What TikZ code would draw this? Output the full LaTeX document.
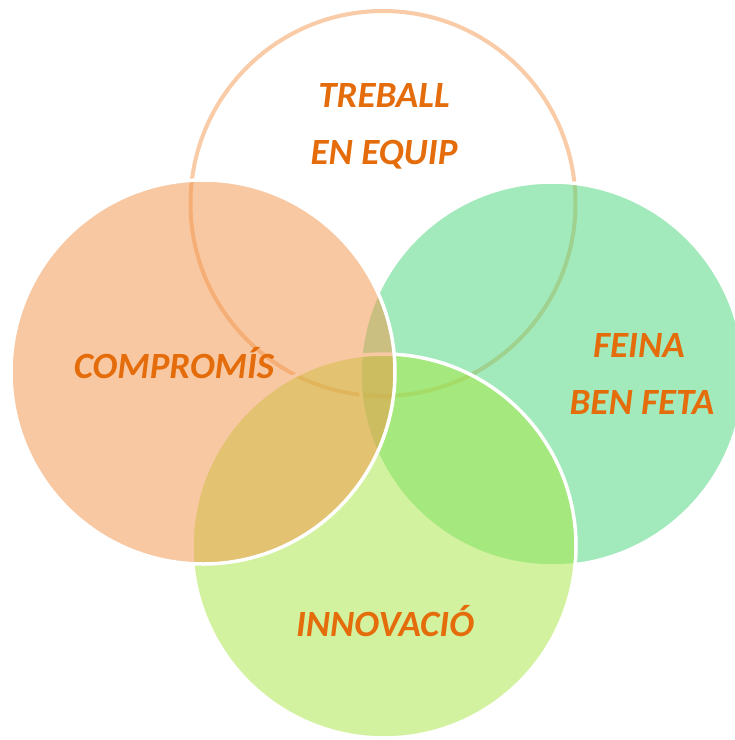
\documentclass[tikz,border=0pt]{standalone}
\usepackage{fontspec}
\setmainfont{Carlito}
\definecolor{txtorange}{RGB}{228,108,10}
\definecolor{corange}{RGB}{243,147,71}
\definecolor{cgreen}{RGB}{71,215,121}
\definecolor{clime}{RGB}{169,231,65}
\definecolor{topline}{RGB}{249,203,166}
\begin{document}
\begin{tikzpicture}[x=1pt,y=-1pt,
  venn/.style={circle, inner sep=0pt, minimum size=384pt, draw=white, line width=3.5pt, fill opacity=0.5},
  lbl/.style={text=txtorange, font=\fontsize{37}{44}\selectfont\bfseries\itshape, anchor=base, inner sep=0pt}]
\useasboundingbox (0,0) rectangle (735,740);
\clip (0,0) rectangle (735,740);
\fill[white] (0,0) rectangle (735,740);
% top circle (outline only)
\node[circle, inner sep=0pt, minimum size=385pt, draw=topline, line width=4pt] (treball) at (383,203.5) {};
% right, bottom, left circles
\node[venn, fill=cgreen] (feina) at (552,374) {};
\node[venn, fill=clime] (innovacio) at (384,546) {};
\node[venn, fill=corange] (compromis) at (203,372) {};
% labels
\node[lbl] (t1) at (384,107) {TREBALL};
\node[lbl] (t2) at (384,164) {EN EQUIP};
\node[lbl] (c1) at (174,378) {COMPROMÍS};
\node[lbl] (f1) at (639,357) {FEINA};
\node[lbl] (f2) at (642,414) {BEN FETA};
\node[lbl] (i1) at (385,636) {INNOVACIÓ};
\end{tikzpicture}
\end{document}
